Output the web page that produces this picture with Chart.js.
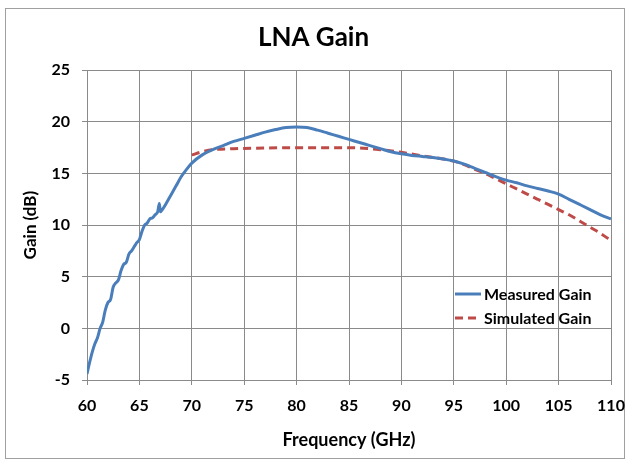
<!DOCTYPE html>
<html>
<head>
<meta charset="utf-8">
<script src="https://cdn.jsdelivr.net/npm/chart.js@4.4.1/dist/chart.umd.min.js"></script>
<style>
  html, body { margin: 0; padding: 0; background: #fff; }
  #wrap { width: 629px; height: 463px; position: relative; }
</style>
</head>
<body>
<div id="wrap"><canvas id="c" width="629" height="463"></canvas></div>
<script>
const chartTitle = "LNA Gain";
const xTitle = "Frequency (GHz)";
const yTitle = "Gain (dB)";
const seriesNames = ["Measured Gain", "Simulated Gain"];

const measuredFreq = [60,60.25,60.5,60.75,61,61.25,61.5,61.75,62,62.25,62.5,62.75,63,63.25,63.5,63.75,64,64.25,64.5,64.75,65,65.25,65.5,65.75,66,66.25,66.5,66.75,66.9,67,67.25,67.5,68,68.5,69,69.5,70,71,72,73,74,75,76,77,78,79,80,81,82,83,84,85,86,87,88,89,90,91,92,93,94,95,96,97,98,99,100,101,102,103,104,105,106,107,108,109,110];
const measuredGain = [-4.4,-3.3,-2.3,-1.5,-0.9,0.0,0.6,1.8,2.5,2.8,4.0,4.4,4.7,5.6,6.2,6.4,7.2,7.5,7.9,8.3,8.6,9.4,10.0,10.2,10.6,10.7,11.0,11.3,12.1,11.3,11.6,12.0,12.9,13.8,14.7,15.4,16.0,16.8,17.3,17.7,18.1,18.4,18.7,19.0,19.25,19.45,19.5,19.45,19.2,18.9,18.6,18.3,18.0,17.7,17.4,17.1,16.9,16.75,16.65,16.55,16.4,16.2,15.9,15.5,15.1,14.7,14.35,14.1,13.8,13.55,13.3,13.0,12.5,12.0,11.5,11.0,10.6];

const simFreq = [70,71,72,74,76,80,85,87,88,90,92,94,95,96,97,98,99,100,101,102,103,104,105,106,107,108,109,110];
const simGain = [16.8,17.1,17.3,17.4,17.45,17.5,17.5,17.4,17.3,17.05,16.7,16.4,16.2,15.85,15.4,15.0,14.5,14.0,13.5,13.0,12.5,12.0,11.5,11.0,10.4,9.8,9.2,8.5];

const xMin = 60, xMax = 110, xStep = 5;
const yMin = -5, yMax = 25, yStep = 5;

const FONT = "Lato, 'Liberation Sans', sans-serif";
const BLUE = "#4a7ebb";
const RED = "#be4b48";
const GRID = "#8a8a8a";

const toXY = (xs, ys) => xs.map((x, i) => ({ x: x, y: ys[i] }));

const borderPlugin = {
  id: 'outerBorder',
  beforeDraw(chart) {
    const ctx = chart.ctx;
    ctx.save();
    ctx.fillStyle = '#fff';
    ctx.fillRect(0, 0, chart.width, chart.height);
    ctx.strokeStyle = '#a0a0a0';
    ctx.lineWidth = 1;
    ctx.strokeRect(5.5, 8.5, 619, 450);
    ctx.restore();
  }
};

const legendPlugin = {
  id: 'innerLegend',
  afterDatasetsDraw(chart) {
    const ctx = chart.ctx;
    const x0 = 455, x1 = 481, tx = 484;
    const ys = [294, 318];
    ctx.save();
    chart.data.datasets.forEach((ds, i) => {
      ctx.strokeStyle = ds.borderColor;
      ctx.lineWidth = 3;
      ctx.setLineDash(ds.borderDash || []);
      ctx.beginPath();
      ctx.moveTo(x0, ys[i]);
      ctx.lineTo(x1, ys[i]);
      ctx.stroke();
      ctx.setLineDash([]);
      ctx.fillStyle = '#000';
      ctx.font = "bold 16px " + FONT;
      ctx.textBaseline = 'middle';
      ctx.textAlign = 'left';
      ctx.fillText(ds.label, tx, ys[i] + 1);
    });
    ctx.restore();
  }
};

new Chart(document.getElementById('c'), {
  type: 'line',
  data: {
    datasets: [
      {
        label: seriesNames[0],
        data: toXY(measuredFreq, measuredGain),
        borderColor: BLUE,
        borderWidth: 3,
        pointRadius: 0,
        cubicInterpolationMode: 'monotone',
        fill: false
      },
      {
        label: seriesNames[1],
        data: toXY(simFreq, simGain),
        borderColor: RED,
        borderWidth: 3,
        borderDash: [8, 5],
        pointRadius: 0,
        cubicInterpolationMode: 'monotone',
        fill: false
      }
    ]
  },
  options: {
    responsive: false,
    animation: false,
    devicePixelRatio: 1,
    layout: { padding: { left: 16, right: 18, top: 0, bottom: 12 } },
    plugins: {
      legend: { display: false },
      tooltip: { enabled: false },
      title: {
        display: true,
        text: chartTitle,
        color: '#000',
        font: { family: FONT, size: 26, weight: 'bold', lineHeight: 1.2 },
        padding: { top: 22, bottom: 17 }
      }
    },
    scales: {
      x: {
        type: 'linear',
        min: xMin, max: xMax,
        ticks: {
          stepSize: xStep,
          color: '#000',
          padding: 11,
          maxRotation: 0,
          font: { family: FONT, size: 16, weight: 'bold' }
        },
        grid: { color: GRID, lineWidth: 1, tickLength: 5, drawTicks: true },
        border: { color: GRID, width: 1 },
        title: {
          display: true,
          text: xTitle,
          color: '#000',
          font: { family: FONT, size: 18, weight: 'bold', lineHeight: 1.2 },
          padding: { top: 4, bottom: 0 }
        },
        afterFit(scale) { scale.height = 71; scale.paddingLeft = 0; scale.paddingRight = 0; }
      },
      y: {
        type: 'linear',
        min: yMin, max: yMax,
        ticks: {
          stepSize: yStep,
          color: '#000',
          padding: 12,
          font: { family: FONT, size: 16, weight: 'bold' }
        },
        grid: { color: GRID, lineWidth: 1, tickLength: 5, drawTicks: true },
        border: { color: GRID, width: 1 },
        title: {
          display: true,
          text: yTitle,
          color: '#000',
          font: { family: FONT, size: 17, weight: 'bold', lineHeight: 1.2 },
          padding: { top: 4, bottom: 4 }
        },
        afterFit(scale) { scale.width = 71; }
      }
    }
  },
  plugins: [borderPlugin, legendPlugin]
});
</script>
</body>
</html>
